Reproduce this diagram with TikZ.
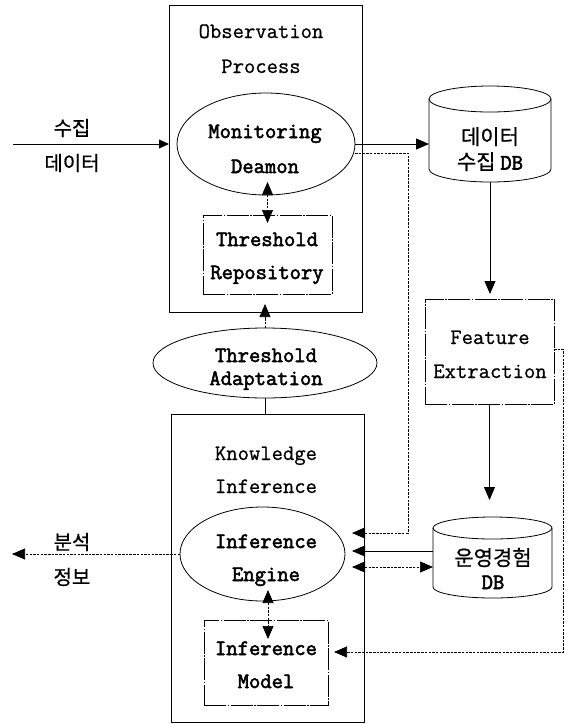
\documentclass[tikz,border=0pt]{standalone}
\usepackage{fontspec}
\newfontfamily\kr[FakeBold=0.6]{Noto Sans CJK KR}
\newfontfamily\ttr[FakeBold=0.8]{Latin Modern Mono}
\newfontfamily\ttb[FakeBold=2.4]{Latin Modern Mono}
\usetikzlibrary{shapes.geometric,arrows.meta,calc}
\begin{document}
\begin{tikzpicture}[x=1pt,y=-1pt,
  every node/.style={inner sep=0pt, outer sep=0pt},
  txt/.style={font=\ttr\fontsize{22}{24}\selectfont, text height=12pt, text depth=0pt},
  btxt/.style={font=\ttb\fontsize{22}{24}\selectfont, text height=12pt, text depth=0pt},
  ktxt/.style={font=\kr\fontsize{20}{24}\selectfont, text height=15pt, text depth=0pt},
  dbtxt/.style={font=\kr\fontsize{21}{24}\selectfont, text height=15pt, text depth=0pt},
  frame/.style={draw, rectangle, line width=0.8pt},
  sub/.style={draw, rectangle, line width=0.7pt, dash pattern=on 22pt off 1.5pt on 1.5pt off 1.5pt},
  oval/.style={draw, ellipse, line width=0.8pt},
  conn/.style={line width=0.8pt},
  dsh/.style={line width=0.7pt, dash pattern=on 2.5pt off 1.2pt},
  tip/.style={-{Triangle[length=13pt,width=11pt]}},
  tipS/.style={-{Triangle[length=10pt,width=9pt]}},
  tips/.style={{Triangle[length=13pt,width=11pt]}-{Triangle[length=13pt,width=11pt]}},
]
\useasboundingbox (0,0) rectangle (566,724);

% Observation process
\node[frame, minimum width=193pt, minimum height=307pt] (obs) at (265.5,158.5) {};
\node[txt] (tObsA) at (261,32) {Observation};
\node[txt] (tObsB) at (261,67) {Process};
\node[oval, minimum width=178pt, minimum height=102pt] (mon) at (266,144) {};
\node[btxt] (tMonA) at (265,132) {Monitoring};
\node[btxt] (tMonB) at (265,167) {Deamon};
\node[sub, minimum width=129pt, minimum height=79pt] (thrrep) at (267.5,254.5) {};
\node[btxt] (tTRA) at (267,240) {Threshold};
\node[btxt] (tTRB) at (267,273) {Repository};

% Threshold adaptation
\node[oval, minimum width=224pt, minimum height=70pt] (thradapt) at (265,363) {};
\node[btxt] (tTAA) at (266,356) {Threshold};
\node[btxt] (tTAB) at (266,379) {Adaptation};

% Knowledge inference
\node[frame, minimum width=193pt, minimum height=308pt] (know) at (267.5,568) {};
\node[txt] (tKA) at (266,454) {Knowledge};
\node[txt] (tKB) at (266,487) {Inference};
\node[oval, minimum width=165pt, minimum height=94pt] (eng) at (262.5,554) {};
\node[btxt] (tEA) at (266,542) {Inference};
\node[btxt] (tEB) at (266,575) {Engine};
\node[sub, minimum width=124pt, minimum height=85pt] (model) at (266,662.5) {};
\node[btxt] (tMA) at (266,649) {Inference};
\node[btxt] (tMB) at (266,682) {Model};

% Feature extraction
\node[sub, minimum width=129pt, minimum height=105pt] (fe) at (489.5,351.5) {};
\node[txt] (tFA) at (490,338) {Feature};
\node[txt] (tFB) at (490,372) {Extraction};

% DB 1
\node[minimum width=122pt, minimum height=96pt] (db1) at (490,134) {};
\draw[conn] (490,99) ellipse [x radius=61pt, y radius=13pt];
\draw[conn] (429,99) -- (429,169) arc[start angle=180, end angle=360, x radius=61pt, y radius=13pt] -- (551,99);
\node[dbtxt] (tD1A) at (490,137) {데이터};
\node[dbtxt] (tD1B) at (490,162) {수집 {\ttb\fontsize{22}{24}\selectfont DB}};

% DB 2
\node[minimum width=119pt, minimum height=81pt] (db2) at (492.5,557.5) {};
\draw[conn] (492.5,528) ellipse [x radius=59.5pt, y radius=11pt];
\draw[conn] (433,528) -- (433,587) arc[start angle=180, end angle=360, x radius=59.5pt, y radius=11pt] -- (552,528);
\node[dbtxt] (tD2A) at (493,558) {운영경험};
\node[btxt] (tD2B) at (493,583) {DB};

% side labels
\node[ktxt] (lInA) at (72,128) {수집};
\node[ktxt] (lInB) at (72,163) {데이터};
\node[ktxt] (lOutA) at (72,542) {분석};
\node[ktxt] (lOutB) at (72,577) {정보};

% connectors
\coordinate (kx) at ([xshift=-12pt]know.east);
\coordinate (inL) at (13,144);
\draw[conn,tipS] (inL) -- (inL -| obs.west);
\draw[conn,tip] (mon.east) -- (mon.east -| db1.west);
\coordinate (m1) at ([yshift=-9pt]mon.east);
\coordinate (busT) at (408,153);
\coordinate (busB) at (408,533);
\draw[dsh,tip] (m1) -- (busT) -- (busB) -- (busB -| kx);
\draw[dsh,tips] ($(thrrep.north |- mon.south)+(0,-13)$) -- ($(thrrep.north)+(0,8)$);
\draw[dsh,tip] (thradapt.north) -- ($(thradapt.north |- thrrep.south)+(0,10)$);
\draw[conn] (thradapt.south) -- (thradapt.south |- know.north);
\draw[conn,tip,shorten >=5pt] (db1.south) -- (db1.south |- fe.north);
\draw[conn,tip,shorten >=17pt] (fe.south) -- (fe.south |- db2.north);
\coordinate (d2a) at ([yshift=6.5pt]db2.west);
\coordinate (d2b) at ([yshift=-9.5pt]db2.west);
\draw[conn,tip] (d2a) -- (d2a -| kx);
\draw[dsh,tips] (d2b -| kx) -- (d2b);
\coordinate (outL) at (12,554);
\draw[dsh,tip] (eng.west) -- (outL);
\draw[dsh,tips] ($(model.north |- eng.south)+(2,-11)$) -- ($(model.north)+(2,19)$);
\coordinate (rT) at (563,349);
\coordinate (rB) at (563,652);
\coordinate (mx) at ([xshift=6pt]model.east);
\draw[dsh,tip] (rT -| fe.east) -- (rT) -- (rB) -- (rB -| mx);
\end{tikzpicture}
\end{document}
